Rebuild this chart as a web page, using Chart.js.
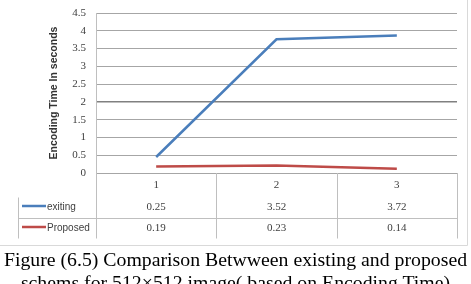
<!DOCTYPE html>
<html>
<head>
<meta charset="utf-8">
<script src="https://cdn.jsdelivr.net/npm/chart.js@4"></script>
<style>
  html, body { margin: 0; padding: 0; background: #fff; }
  body { width: 471px; height: 284px; position: relative; overflow: hidden; }
  #chart { position: absolute; left: 0; top: 0; }
  .caption {
    position: absolute; left: 0; top: 248px; width: 471px;
    text-align: center; white-space: nowrap;
    font-family: "Liberation Serif", serif; font-size: 19.8px; line-height: 23px; color: #000;
  }
</style>
</head>
<body>
<canvas id="chart" width="471" height="250"></canvas>
<div class="caption">Figure (6.5) Comparison Betwween existing and proposed<br>schems for 512×512 image( based on Encoding Time)</div>
<script>
const categories = ['1', '2', '3'];
// where the lines sit in the picture
const exitingLine = [0.45, 3.76, 3.87];
const proposedLine = [0.18, 0.21, 0.12];
// what the data table underneath says
const exitingTable = ['0.25', '3.52', '3.72'];
const proposedTable = ['0.19', '0.23', '0.14'];
const seriesNames = ['exiting', 'Proposed'];
const seriesColors = ['#4a7ebb', '#be4b48'];

const tableLine = '#bfbfbf';

// data table under the plot, aligned to the x scale
const dataTable = {
  id: 'dataTable',
  afterDraw(chart) {
    const ctx = chart.ctx;
    const xs = chart.scales.x;
    const area = chart.chartArea;
    const half = (xs.getPixelForValue(1) - xs.getPixelForValue(0)) / 2;
    const top = area.bottom;
    const r1 = 197.5, r2 = 218.5, bottom = 238.5;
    const keyLeft = 18.5;

    ctx.save();
    ctx.strokeStyle = tableLine;
    ctx.lineWidth = 1;
    ctx.beginPath();
    for (let i = 0; i <= categories.length; i++) {
      const x = Math.round(xs.getPixelForValue(i) - half) + 0.5;
      ctx.moveTo(x, top);
      ctx.lineTo(x, bottom);
    }
    ctx.moveTo(keyLeft, r1);
    ctx.lineTo(keyLeft, bottom);
    ctx.moveTo(keyLeft, r2);
    ctx.lineTo(area.right, r2);
    ctx.stroke();

    // outer chart frame (right and bottom visible)
    ctx.strokeStyle = '#d9d9d9';
    ctx.beginPath();
    ctx.moveTo(467.5, 0);
    ctx.lineTo(467.5, 245.5);
    ctx.lineTo(0, 245.5);
    ctx.stroke();

    ctx.textAlign = 'center';
    ctx.textBaseline = 'middle';
    ctx.fillStyle = '#404040';
    ctx.font = '11px "Liberation Serif", serif';
    categories.forEach(function(c, i) {
      const x = xs.getPixelForValue(i);
      ctx.fillText(c, x, 185);
      ctx.fillText(exitingTable[i], x, 207);
      ctx.fillText(proposedTable[i], x, 228);
    });

    // row headers with legend keys
    const rows = [207, 228];
    ctx.textAlign = 'left';
    ctx.font = '10px "Liberation Sans", sans-serif';
    seriesNames.forEach(function(name, i) {
      ctx.strokeStyle = seriesColors[i];
      ctx.lineWidth = 2.5;
      ctx.beginPath();
      ctx.moveTo(22, rows[i] - 1);
      ctx.lineTo(46, rows[i] - 1);
      ctx.stroke();
      ctx.fillStyle = '#404040';
      ctx.fillText(name, 47, rows[i]);
    });
    ctx.restore();
  }
};

new Chart(document.getElementById('chart'), {
  type: 'line',
  data: {
    labels: categories,
    datasets: [
      { label: seriesNames[0], data: exitingLine, borderColor: seriesColors[0], borderWidth: 2.5, pointRadius: 0, tension: 0 },
      { label: seriesNames[1], data: proposedLine, borderColor: seriesColors[1], borderWidth: 2.5, pointRadius: 0, tension: 0 }
    ]
  },
  options: {
    responsive: false,
    animation: false,
    devicePixelRatio: 1,
    layout: { padding: { left: 0, top: 13, right: 14, bottom: 77 } },
    plugins: { legend: { display: false }, tooltip: { enabled: false } },
    scales: {
      x: { display: false, offset: true },
      y: {
        min: 0,
        max: 4.5,
        afterFit: function(s) {
          s.width = 96;
          s.paddingTop = 0;
          s.paddingBottom = 0;
        },
        border: { color: tableLine },
        grid: {
          drawTicks: false,
          color: function(c) { return c.tick && c.tick.value === 2 ? '#808080' : '#a6a6a6'; },
          lineWidth: function(c) { return c.tick && c.tick.value === 2 ? 1.5 : 1; }
        },
        ticks: {
          stepSize: 0.5,
          padding: 10,
          color: '#404040',
          font: { family: '"Liberation Serif", serif', size: 11 },
          callback: function(v) { return String(v); }
        },
        title: {
          display: true,
          text: 'Encoding Time In seconds',
          color: '#333',
          font: { family: '"Liberation Sans", sans-serif', size: 10.5, weight: 'bold' },
          padding: { top: 48, bottom: 0 }
        }
      }
    }
  },
  plugins: [dataTable]
});
</script>
</body>
</html>
